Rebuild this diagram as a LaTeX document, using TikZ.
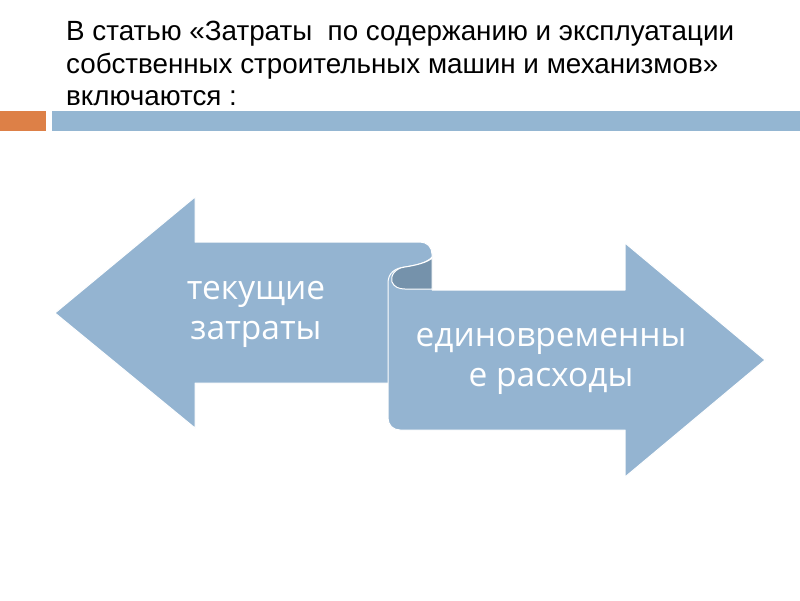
\documentclass[tikz,border=0pt]{standalone}
\usepackage{fontspec}
\setmainfont{Liberation Sans}
\newfontfamily\arrowfont{Open Sans}
\definecolor{arrowblue}{HTML}{94B4D1}
\definecolor{barblue}{HTML}{94B6D2}
\definecolor{curldark}{HTML}{7592AB}
\definecolor{barorange}{HTML}{DD8047}
\tikzset{
  titletext/.style={anchor=base west, inner sep=0pt, font=\fontsize{27.8}{33}\selectfont, text=black},
  arrowshape/.style={fill=arrowblue, draw=white, line width=1pt, line join=round},
  arrowtext/.style={align=center, text=white, inner sep=0pt, font=\arrowfont\fontsize{33.5}{40}\selectfont},
}
\begin{document}
\begin{tikzpicture}[x=1pt,y=-1pt]
\useasboundingbox (0,0) rectangle (800,600);
\fill[white] (0,0) rectangle (800,600);
% title
\node[titletext] (t1) at (66,40) {В статью «Затраты\ \ по содержанию и эксплуатации};
\node[titletext] (t2) at (66,73) {собственных строительных машин и механизмов»};
\node[titletext] (t3) at (66,105) {включаются :};
% bars
\fill[barorange] (0,111) rectangle (46,131);
\fill[barblue] (52,111) rectangle (800,131);
% left arrow
\path[arrowshape] (55,313) -- (195,197) -- (195,242) -- (420,242)
  .. controls (427,242) and (432,247) .. (432,254) -- (432,383) -- (195,383)
  -- (195,428) -- cycle;
% right arrow
\path[arrowshape] (388,418) -- (388,283)
  .. controls (388,273) and (395,268) .. (405,267)
  .. controls (418,265) and (428,262) .. (432,257)
  -- (432,290) -- (625,290) -- (625,243) -- (765,360) -- (625,477) -- (625,430)
  -- (400,430) .. controls (393,430) and (388,425) .. (388,418) -- cycle;
% curl (back side)
\path[fill=curldark, draw=white, line width=1pt, line join=round] (432,258)
  .. controls (428,262) and (418,265) .. (405,267)
  .. controls (395,268) and (390,276) .. (392,282)
  .. controls (394,287) and (399,289) .. (405,289) -- (432,289) -- cycle;
% texts
\node[arrowtext] (lt) at (256,314) {текущие\\затраты};
\node[arrowtext] (rt) at (551,361) {единовременны\\е расходы};
\end{tikzpicture}
\end{document}
